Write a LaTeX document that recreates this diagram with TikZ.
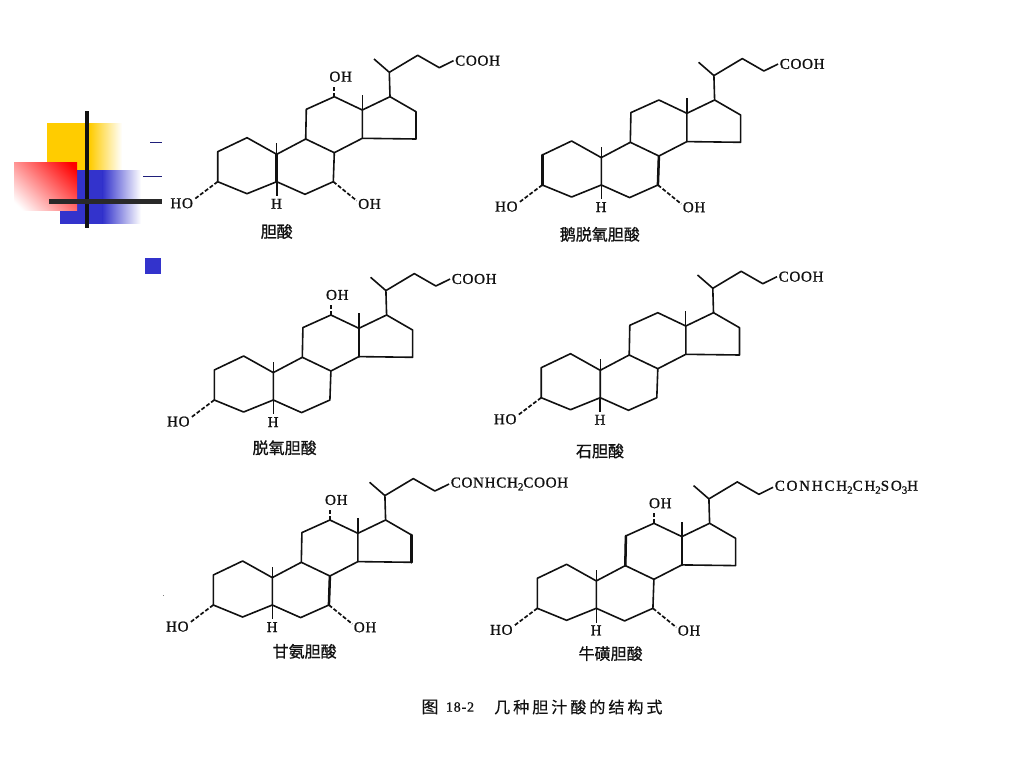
\documentclass[tikz,border=0pt]{standalone}
\usepackage{fontspec}
\newfontfamily\labfont[LetterSpace=5,UprightFont=*,FakeBold=1.1]{Liberation Serif}
\newfontfamily\longfont[LetterSpace=12,UprightFont=*,FakeBold=1.1]{Liberation Serif}
\newfontfamily\cjkname[FakeBold=0.9]{Noto Sans CJK SC}
\newfontfamily\cjkcap[LetterSpace=19,FakeBold=0.5]{Noto Sans CJK SC}
\newfontfamily\capfont[FakeBold=0.8,LetterSpace=6]{Liberation Serif}
\definecolor{inkc}{HTML}{111111}
\definecolor{bluec}{HTML}{3333CC}
\definecolor{yellowc}{HTML}{FFCC00}
\newcommand{\sbs}[1]{\raisebox{-3pt}{\fontsize{11}{11}\selectfont #1}}
\tikzset{
  x=1pt,y=-1pt,
  bond/.style={draw=inkc,line width=1.6pt,line join=round},
  hbond/.style={draw=inkc,line width=2.5pt,line cap=round},
  dbond/.style={draw=inkc,line width=1.7pt,dash pattern=on 4pt off 2pt},
  lab/.style={font=\fontsize{15}{15}\labfont,text=inkc,inner sep=0pt},
  namelab/.style={font=\fontsize{16}{16}\cjkname,text=inkc,inner sep=0pt},
}
% #1 dx, #2 dy, #3 prefix, #4 chain label, #5 name, #6 name x, #7 name y
\newcommand{\skeleton}[7]{%
  \begin{scope}[shift={(#1,#2)}]
    \coordinate (#3a1) at (247,137.7);
    \coordinate (#3a2) at (276.7,154.3);
    \coordinate (#3a3) at (276.7,181.7);
    \coordinate (#3a4) at (247,193.7);
    \coordinate (#3a5) at (217.7,181.7);
    \coordinate (#3a6) at (217.7,151.7);
    \coordinate (#3b1) at (305.7,139);
    \coordinate (#3b2) at (334.3,152.7);
    \coordinate (#3b3) at (333.3,181.7);
    \coordinate (#3b4) at (305,194.3);
    \coordinate (#3c1) at (306.3,109.3);
    \coordinate (#3c2) at (334.3,96.7);
    \coordinate (#3c3) at (362.3,110);
    \coordinate (#3c4) at (362.3,138.3);
    \coordinate (#3d1) at (390,96.7);
    \coordinate (#3d2) at (416,111.7);
    \coordinate (#3d3) at (416,139);
    \coordinate (#3m18) at (362.3,95);
    \coordinate (#3m19) at (276.7,143.3);
    \coordinate (#3s1) at (389.3,72.3);
    \coordinate (#3s2) at (374,59);
    \coordinate (#3s3) at (417.7,55.3);
    \coordinate (#3s4) at (439.3,67.7);
    \coordinate (#3s5) at (453.5,60.7);
    \coordinate (#3h5) at (276.7,196);
    \coordinate (#3e3) at (194,199.5);
    \coordinate (#3e7) at (356.7,200.7);
    \coordinate (#3e12) at (334.3,85);
    \draw[bond] (#3a1)--(#3a2)--(#3a3)--(#3a4)--(#3a5)--(#3a6)--cycle;
    \draw[bond] (#3a2)--(#3b1)--(#3b2)--(#3b3)--(#3b4)--(#3a3);
    \draw[bond] (#3b1)--(#3c1)--(#3c2)--(#3c3)--(#3c4)--(#3b2);
    \draw[bond] (#3c3)--(#3d1)--(#3d2)--(#3d3)--(#3c4);
    \draw[bond,line width=1.2pt] (#3c3)--(#3m18);
    \draw[bond,line width=1.2pt] (#3a2)--(#3m19);
    \draw[bond] (#3d1)--(#3s1)--(#3s2);
    \draw[bond] (#3s1)--(#3s3)--(#3s4)--(#3s5);
    \draw[bond] (#3a3)--(#3h5);
    \draw[dbond] (#3a5)--(#3e3);
    \node[lab,anchor=west] (#3chain) at (455,60.7) {#4};
    \node[lab] (#3ho) at (181.7,203.3) {HO};
    \node[lab] (#3h) at (276.5,203.8) {H};
    \node[namelab] (#3name) at (#6,#7) {#5};
  \end{scope}
}
% 7-OH: #1 dx, #2 dy, #3 prefix
\newcommand{\ohseven}[3]{%
  \begin{scope}[shift={(#1,#2)}]
    \draw[dbond] (#3b3)--(#3e7);
    \node[lab] (#3oh7) at (369.5,204) {OH};
  \end{scope}
}
% 12-OH
\newcommand{\ohtwelve}[3]{%
  \begin{scope}[shift={(#1,#2)}]
    \draw[dbond] (#3c2)--(#3e12);
    \node[lab] (#3oh12) at (340.7,76.7) {OH};
  \end{scope}
}
\begin{document}
\begin{tikzpicture}
\useasboundingbox (0,0) rectangle (1024,768);
\fill[white] (0,0) rectangle (1024,768);

% decorative block
\fill[yellowc] (47,123) rectangle (90,198);
\shade[shading=axis,left color=yellowc,right color=white] (89.5,123) rectangle (122,198);
\fill[bluec] (60,170) rectangle (103,223.5);
\shade[shading=axis,left color=bluec,right color=white] (102.5,170) rectangle (141,223.5);
\begin{scope}
  \clip (14,162) rectangle (77,210);
  \shade[shading=axis,top color=red,bottom color=white,shading angle=-45] (7,157) rectangle (84,215);
\end{scope}
\draw[inkc,line width=4pt] (87,111) -- (87,228);
\draw[inkc!90,line width=5pt] (49,201.5) -- (162,201.5);
\draw[bluec!60!black,line width=1pt] (150,142) -- (162,142);
\draw[bluec!60!black,line width=1pt] (143,176) -- (162,176);
\fill[bluec] (145,258) rectangle (161,274);
\fill[gray] (162.5,594.5) rectangle (164,596);

% molecules
\skeleton{0}{0}{p}{COOH}{胆酸}{276.7}{231.5}
\ohseven{0}{0}{p}\ohtwelve{0}{0}{p}
\draw[hbond] (pa2)--(pa3);

\skeleton{324.6}{3.3}{q}{COOH}{鹅脱氧胆酸}{275.2}{231}
\ohseven{324.6}{3.3}{q}
\draw[hbond] (qa5)--(qa6);
\draw[hbond] (qb2)--(qb3);

\skeleton{-3.4}{218.3}{r}{COOH}{脱氧胆酸}{288}{229.5}
\ohtwelve{-3.4}{218.3}{r}
\draw[hbond] (rc4)--(rc3);

\skeleton{323.5}{216}{s}{COOH}{石胆酸}{276.5}{235}

\skeleton{-4.4}{423.3}{t}{CONHCH\sbs{2}COOH}{甘氨胆酸}{309}{228}
\ohseven{-4.4}{423.3}{t}\ohtwelve{-4.4}{423.3}{t}
\draw[hbond] (tb2)--(tb3);
\draw[hbond] (td2)--(td3);

\skeleton{319.6}{426.6}{u}{\longfont CONHCH\sbs{2}CH\sbs{2}SO\sbs{3}H}{牛磺胆酸}{291}{227}
\ohseven{319.6}{426.6}{u}\ohtwelve{319.6}{426.6}{u}
\draw[hbond] (uc3)--(uc4);
\draw[hbond] (ub1)--(uc1);

% caption
\node[inner sep=0pt,font=\fontsize{17}{17}\cjkcap,text=inkc] (figword) at (430,707) {图};
\node[inner sep=0pt,font=\fontsize{14}{14}\capfont,text=inkc] (fignum) at (460,707) {18-2};
\node[inner sep=0pt,anchor=west,font=\fontsize{16}{16}\cjkcap,text=inkc] (figtitle) at (494,707) {几种胆汁酸的结构式};
\end{tikzpicture}
\end{document}
